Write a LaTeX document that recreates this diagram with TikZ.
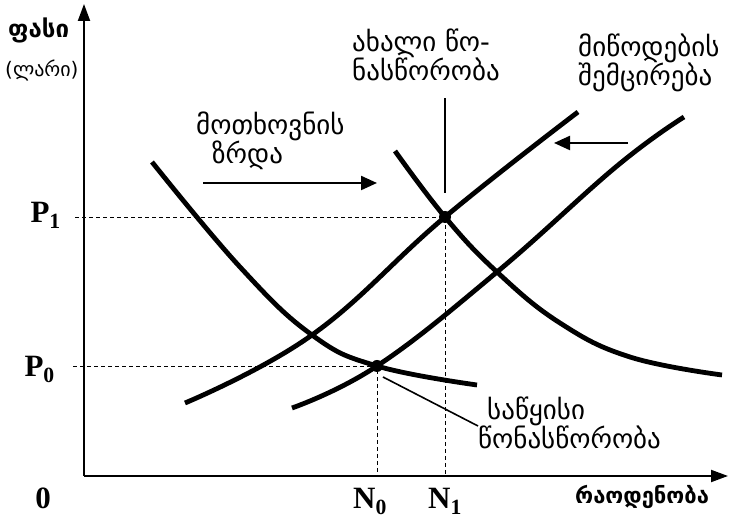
\documentclass[tikz,border=0pt]{standalone}
\usepackage{fontspec}
\setmainfont{Liberation Serif}
\newfontfamily\geofont{DejaVu Sans}
\usetikzlibrary{arrows.meta}

\begin{document}
\begin{tikzpicture}[
  x=1pt, y=1pt,
  >={Triangle[length=17pt,width=12pt]},
  axis/.style={line width=2pt, ->},
  curve/.style={line width=4.8pt},
  guide/.style={dashed, dash pattern=on 4pt off 3pt, line width=0.9pt},
  leader/.style={line width=1.6pt},
  shiftarrow/.style={line width=2.2pt, ->, >={Triangle[length=16pt,width=14pt]}},
  geo/.style={font=\geofont\fontsize{27}{29}\selectfont, align=left, inner sep=0pt},
  geobold/.style={font=\geofont\bfseries\fontsize{22}{26}\selectfont, inner sep=0pt},
  val/.style={font=\bfseries\fontsize{31}{31}\selectfont, inner sep=0pt}
]
\useasboundingbox (0,0) rectangle (729,521);
% ---- axes ----
\coordinate (O) at (84,45);
\draw[axis] (O) -- (84,517) coordinate (ytip);
\draw[axis] (O) -- (728,45) coordinate (xtip);
\node[geobold, anchor=west, font=\geofont\bfseries\fontsize{24}{26}\selectfont]
  (price) at (8,491) {ფასი};
\node[geo, anchor=west, font=\geofont\fontsize{20}{24}\selectfont]
  (unit) at (5,451) {(ლარი)};
\node[geobold, anchor=west] (qty) at (575,24) {რაოდენობა};
\node[val, anchor=base] (zero) at (43,12) {0};
% ---- equilibrium points ----
\coordinate (E0) at (377,155);
\coordinate (E1) at (445,304);
% ---- guide lines and axis values ----
\node[val, anchor=base east] (P1) at (61,298) {P\textsubscript{1}};
\node[val, anchor=base east] (P0) at (55,144) {P\textsubscript{0}};
\node[val, anchor=base west] (N0) at (353,12) {N\textsubscript{0}};
\node[val, anchor=base west] (N1) at (428,12) {N\textsubscript{1}};
\draw[guide] (75,304) -- (E1) -- (E1 |- O);
\draw[guide] (73,155) -- (E0) -- (E0 |- O);
% ---- demand curves ----
\draw[curve] plot[smooth, tension=0.7] coordinates
  {(152,359) (240,254) (312,186) (377,155) (477,136)};
\draw[curve] plot[smooth, tension=0.7] coordinates
  {(395,370) (445,304) (497,249) (560,198) (630,164) (722,146)};
% ---- supply curves ----
\draw[curve] plot[smooth, tension=0.7] coordinates
  {(185,118) (312,186) (445,304) (578,409)};
\draw[curve] plot[smooth, tension=0.7] coordinates
  {(292,113) (377,155) (497,249) (617,355) (684,404)};
\fill (E0) circle (6);
\fill (E1) circle (6);
% ---- new equilibrium ----
\node[geo, anchor=north west] (newlab) at (352,492)
  {ახალი წო-\\ნასწორობა};
\coordinate (newtip) at (445,423);
\draw[leader] ([yshift=24pt]E1) -- (newtip);
% ---- initial equilibrium ----
\node[geo, anchor=north west] (oldlab) at (478,124)
  {\hspace*{9pt}საწყისი\\წონასწორობა};
\coordinate (oldtip) at (478,95);
\draw[leader] ([shift={(6pt,-11pt)}]E0) -- (oldtip);
% ---- demand increase ----
\node[geo, anchor=north west] (demlab) at (196,409)
  {მოთხოვნის\\\hspace*{16pt}ზრდა};
\coordinate (demfrom) at (203,338);
\coordinate (demto) at (377,338);
\draw[shiftarrow] (demfrom) -- (demto);
% ---- supply decrease ----
\node[geo, anchor=north west] (suplab) at (578,487)
  {მიწოდების\\შემცირება};
\coordinate (supfrom) at (628,378);
\coordinate (supto) at (554,378);
\draw[shiftarrow] (supfrom) -- (supto);
\end{tikzpicture}
\end{document}
